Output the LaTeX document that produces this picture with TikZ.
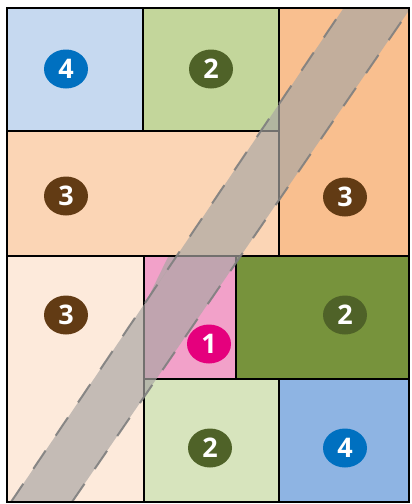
\documentclass[tikz,border=0pt]{standalone}
\usepackage{fontspec}
\setmainfont{Open Sans}
\usetikzlibrary{shapes.geometric}
\definecolor{cA}{HTML}{C6D9F0}
\definecolor{cB}{HTML}{C3D69B}
\definecolor{cC}{HTML}{FBD5B5}
\definecolor{cD}{HTML}{F9BF8F}
\definecolor{cE}{HTML}{FDEADB}
\definecolor{cF}{HTML}{F2A1C9}
\definecolor{cG}{HTML}{77933C}
\definecolor{cH}{HTML}{D7E4BD}
\definecolor{cI}{HTML}{8EB4E3}
\definecolor{kBlue}{HTML}{0070C0}
\definecolor{kGreen}{HTML}{4F6228}
\definecolor{kBrown}{HTML}{623B14}
\definecolor{kMag}{HTML}{E5007D}
\definecolor{bandgray}{HTML}{A9A6A3}
\definecolor{dashgray}{HTML}{7F7F7F}
\tikzset{
  badge/.style={ellipse, minimum width=44pt, minimum height=39pt, inner sep=0pt,
    text=white, font=\fontsize{27}{27}\selectfont\bfseries},
  innerline/.style={draw=black, line width=2pt},
  frameline/.style={draw=black, line width=2.6pt},
  bandfill/.style={fill=bandgray, fill opacity=0.68},
  bandedge/.style={draw=dashgray, line width=2pt, dash pattern=on 22pt off 18pt, draw opacity=0.9}
}
\begin{document}
\begin{tikzpicture}[x=1pt,y=-1pt]
\useasboundingbox (0,0) rectangle (412,504);
% regions
\fill[cA] (7,8) rectangle (143,131);
\fill[cB] (143,8) rectangle (279,131);
\fill[cC] (7,131) rectangle (279,256);
\fill[cD] (279,8) rectangle (409,256);
\fill[cE] (7,256) rectangle (144,502);
\fill[cF] (144,256) rectangle (236,379);
\fill[cG] (236,256) rectangle (409,379);
\fill[cH] (144,379) rectangle (279,502);
\fill[cI] (279,379) rectangle (409,502);
% inner boundaries
\draw[innerline] (143,8) -- (143,131);
\draw[innerline] (7,131) -- (279,131);
\draw[innerline] (279,8) -- (279,256);
\draw[innerline] (7,256) -- (409,256);
\draw[innerline] (144,256) -- (144,502);
\draw[innerline] (236,256) -- (236,379);
\draw[innerline] (144,379) -- (409,379);
\draw[innerline] (279,379) -- (279,502);
% band
\begin{scope}
\clip (7,8) rectangle (409,502);
\fill[bandfill] (11,502) -- (72,502) -- (410,9) -- (343,9) -- cycle;
\fill[bandfill] (168,257) -- (176,257) -- (145,304) -- cycle;
\draw[bandedge] (11,502) -- (343,9);
\draw[bandedge] (72,502) -- (410,9);
\end{scope}
% frame
\draw[frameline] (7,8) rectangle (409,502);
% badges
\node[badge, fill=kBlue]  (n4a) at (66,69)   {4};
\node[badge, fill=kGreen] (n2a) at (211,69)  {2};
\node[badge, fill=kBrown] (n3a) at (66,196)  {3};
\node[badge, fill=kBrown] (n3b) at (345,197) {3};
\node[badge, fill=kBrown] (n3c) at (66,315)  {3};
\node[badge, fill=kMag]   (n1)  at (209,344) {1};
\node[badge, fill=kGreen] (n2b) at (345,315) {2};
\node[badge, fill=kGreen] (n2c) at (210,448) {2};
\node[badge, fill=kBlue]  (n4b) at (345,448) {4};
\end{tikzpicture}
\end{document}
